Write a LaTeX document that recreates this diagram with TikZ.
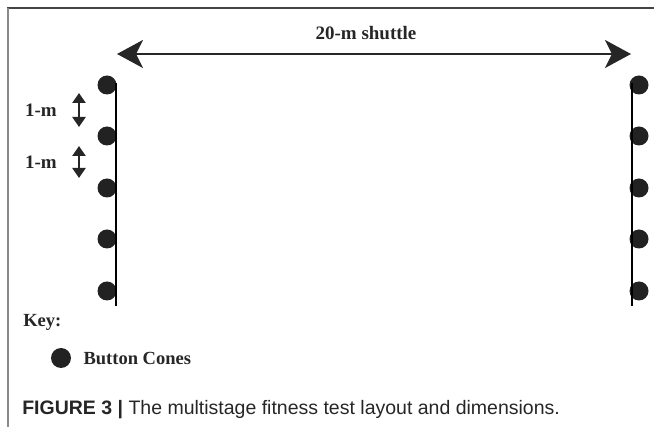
\documentclass[tikz,border=0pt]{standalone}
\usepackage{fontspec}
\setmainfont{Liberation Serif}
\newfontfamily\capfont{Liberation Sans}
\usetikzlibrary{arrows.meta}
\usetikzlibrary{positioning}

\definecolor{conegray}{HTML}{222222}
\definecolor{textgray}{HTML}{262626}
\definecolor{framedark}{HTML}{444444}
\definecolor{framelight}{HTML}{8A8A8A}

\begin{document}
\begin{tikzpicture}[x=1pt,y=-1pt,semithick]
 \tikzstyle{cone node}=[circle,fill=conegray,inner sep=0,minimum size=19pt]
 \tikzstyle{label node}=[inner sep=0,text=textgray,font=\bfseries\fontsize{19}{19}\selectfont]
 \tikzset{
 	key node/.style={inner sep=0,text=textgray,font=\bfseries\fontsize{18.5}{18.5}\selectfont},
 	side line/.style={line width=2.7pt,black},
 	shuttle arrow/.style={line width=2.5pt,draw=textgray,{Stealth[length=26pt,width=28pt,inset=7pt]}-{Stealth[length=26pt,width=28pt,inset=7pt]}},
 	metre arrow/.style={line width=2.4pt,draw=textgray,{Triangle[length=10pt,width=13pt]}-{Triangle[length=10pt,width=13pt]}}
 }

 \useasboundingbox (0,0) rectangle (654,427);
 % frame
 \draw[framedark,line width=2pt] (7,8) -- (654,8);
 \draw[framelight,line width=2pt] (8,8) -- (8,427);

 % start line cones
 \node[cone node] (L1) at (107,85) {};
 \node[cone node] (L2) at (107,136) {};
 \node[cone node] (L3) at (107,188) {};
 \node[cone node] (L4) at (107,239) {};
 \node[cone node] (L5) at (107,291) {};
 % far line cones
 \node[cone node] (R1) at (639,85) {};
 \node[cone node] (R2) at (639,136) {};
 \node[cone node] (R3) at (639,188) {};
 \node[cone node] (R4) at (639,239) {};
 \node[cone node] (R5) at (639,291) {};

 \coordinate (lt) at (116,83);
 \coordinate (lb) at (116,306);
 \coordinate (rt) at (632,83);
 \coordinate (rb) at (632,306);
 \path[side line] (lt) edge (lb);
 \path[side line] (rt) edge (rb);

 % shuttle distance
 \coordinate (sl) at (117,54);
 \coordinate (sr) at (631,54);
 \draw[shuttle arrow] (sl) -- (sr);
 \node[label node] (shuttle) at (366,33) {20-m shuttle};

 % cone spacing
 \coordinate (m1t) at (79,93);
 \coordinate (m1b) at (79,127);
 \coordinate (m2t) at (79,146);
 \coordinate (m2b) at (79,178);
 \draw[metre arrow] (m1t) -- (m1b);
 \draw[metre arrow] (m2t) -- (m2b);
 \node[label node] (m1) at (41,110) {1-m};
 \node[label node] (m2) at (41,162) {1-m};

 % key
 \node[key node,anchor=west] (key) at (23,322) {Key:};
 \node[cone node,minimum size=20pt] (keycone) at (61,358) {};
 \node[key node,right=12pt of keycone] (keytext) {Button Cones};

 \node[inner sep=0,anchor=base west,text=textgray,font=\capfont\fontsize{19.5}{19.5}\selectfont] (caption) at (22,415)
   {\textbf{FIGURE 3 |} The multistage fitness test layout and dimensions.};
\end{tikzpicture}
\end{document}
